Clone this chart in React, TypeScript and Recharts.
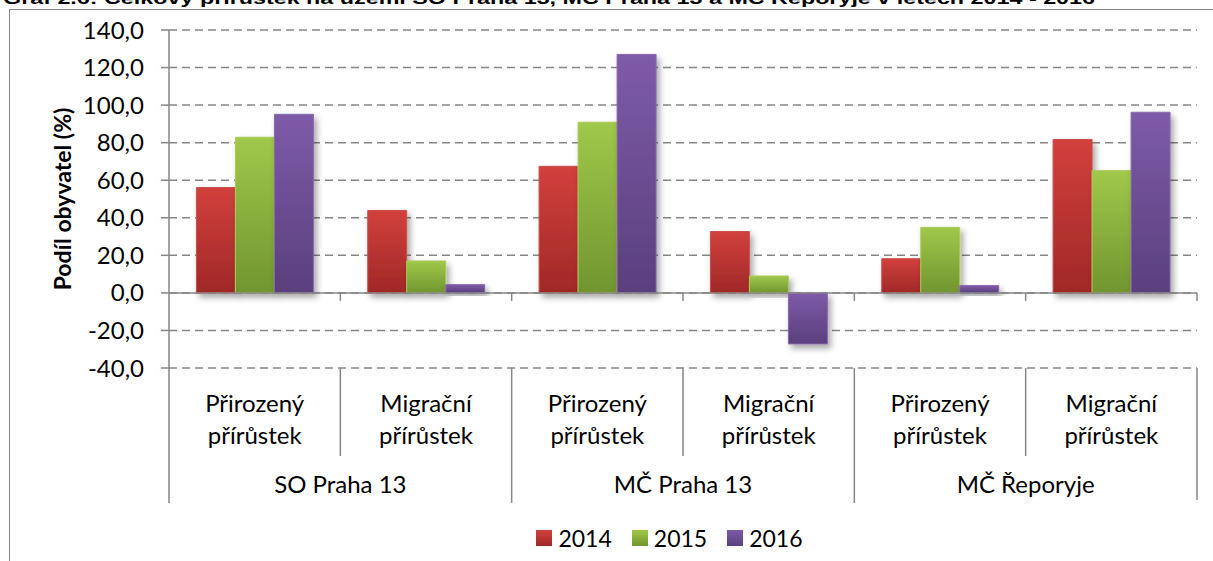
import React from "react";
import { Bar, BarChart, CartesianGrid, Legend, ReferenceLine, XAxis, YAxis } from "recharts";

const groups = ["SO Praha 13", "MČ Praha 13", "MČ Řeporyje"];
const subcats = ["Přirozený přírůstek", "Migrační přírůstek"];
const years = ["2014", "2015", "2016"];
const values2014 = [56.1, 43.9, 67.4, 32.7, 18.2, 81.7];
const values2015 = [82.9, 17.0, 90.9, 9.0, 34.9, 65.1];
const values2016 = [95.1, 4.4, 127.0, -27.2, 3.9, 96.2];
const yTicks = [-40, -20, 0, 20, 40, 60, 80, 100, 120, 140];

const W = 1213;
const H = 561;
const MARGIN = { top: 30, right: 16, left: 0, bottom: 0 };
const Y_AXIS_W = 169;
const X_AXIS_H = 143;
const LEGEND_H = 50;
const PLOT_BOTTOM = H - X_AXIS_H - LEGEND_H;
const BAND = (W - Y_AXIS_W - MARGIN.right) / 6;
const ZERO_Y = MARGIN.top + (140 / 180) * (PLOT_BOTTOM - MARGIN.top);

const AXIS = "#868686";
const FONT = "Lato, 'Open Sans', sans-serif";
const FS = 24;

const SERIES = [
  { key: "y2014", name: years[0], top: "#d2403c", bottom: "#a02827", edge: "#c9504c" },
  { key: "y2015", name: years[1], top: "#a0c84a", bottom: "#71952f", edge: "#a9cc5c" },
  { key: "y2016", name: years[2], top: "#7e5ba8", bottom: "#5a3f7d", edge: "#8a6ab0" },
];

const data = values2014.map((_, i) => ({
  key: `${groups[Math.floor(i / 2)]}|${subcats[i % 2]}`,
  group: groups[Math.floor(i / 2)],
  sub: subcats[i % 2],
  y2014: values2014[i],
  y2015: values2015[i],
  y2016: values2016[i],
}));

const fmt = (v: number) => v.toFixed(1).replace(".", ",");

function CatTick(props: any) {
  const { x, y, payload } = props;
  const i: number = payload.index;
  const row = data[i];
  const half = payload.offset || BAND / 2;
  const [l1, l2] = row.sub.split(" ");
  const rightLong = i % 2 === 1;
  return (
    <g>
      <text x={x} y={y + 44} textAnchor="middle" fontSize={FS} fontFamily={FONT} fill="#000">
        {l1}
      </text>
      <text x={x} y={y + 76} textAnchor="middle" fontSize={FS} fontFamily={FONT} fill="#000">
        {l2}
      </text>
      {i % 2 === 0 && (
        <text x={x + half} y={y + 125} textAnchor="middle" fontSize={FS} fontFamily={FONT} fill="#000">
          {row.group}
        </text>
      )}
      {i === 0 && (
        <line x1={x - half} x2={x - half} y1={y} y2={y + 135} stroke={AXIS} strokeWidth={1.5} />
      )}
      <line
        x1={x + half}
        x2={x + half}
        y1={y}
        y2={y + (rightLong ? (i === 5 ? 132 : 135) : 88)}
        stroke={AXIS}
        strokeWidth={1.5}
      />
      <line x1={x + half} x2={x + half} y1={ZERO_Y} y2={ZERO_Y + 8} stroke={AXIS} strokeWidth={1.5} />
    </g>
  );
}

function YLabel(props: any) {
  const vb = props.viewBox || { x: 0, y: MARGIN.top, height: PLOT_BOTTOM - MARGIN.top };
  const cx = vb.x + 62;
  const cy = vb.y + vb.height / 2;
  return (
    <text
      x={cx}
      y={cy}
      transform={`rotate(-90, ${cx}, ${cy})`}
      textAnchor="middle"
      dominantBaseline="central"
      fontSize={23}
      fontWeight="bold"
      fontFamily={FONT}
      fill="#000"
    >
      Podíl obyvatel (%)
    </text>
  );
}

function LegendBox() {
  return (
    <div
      style={{
        height: LEGEND_H,
        boxSizing: "border-box",
        paddingTop: 4,
        paddingLeft: 142,
        display: "flex",
        justifyContent: "center",
        gap: 20,
        fontFamily: FONT,
        fontSize: 23,
        lineHeight: "24px",
        color: "#000",
      }}
    >
      {SERIES.map((s) => (
        <div key={s.key} style={{ display: "flex", alignItems: "center" }}>
          <span
            style={{
              display: "inline-block",
              width: 16,
              height: 16,
              marginRight: 6,
              background: `linear-gradient(${s.top}, ${s.bottom})`,
            }}
          />
          {s.name}
        </div>
      ))}
    </div>
  );
}

export default function App() {
  return (
    <div style={{ position: "absolute", left: 0, top: 0, width: W, height: H, overflow: "hidden", background: "#fff" }}>
      <div
        style={{
          position: "absolute",
          left: 9,
          top: 9,
          width: W + 100,
          height: H + 100,
          border: `1.5px solid ${AXIS}`,
        }}
      />
      <svg width={W} height={20} style={{ position: "absolute", left: 0, top: 0 }}>
        <text
          x={3}
          y={4}
          fontFamily="'Liberation Sans', Arial, sans-serif"
          fontWeight="bold"
          fontSize={17}
          textLength={1092}
          lengthAdjust="spacingAndGlyphs"
          fill="#000"
        >
          Graf 2.6: Celkový přírůstek na území SO Praha 13, MČ Praha 13 a MČ Řeporyje v letech 2014 - 2016
        </text>
      </svg>
      <div style={{ position: "absolute", left: 0, top: 0 }}>
        <BarChart width={W} height={H} data={data} margin={MARGIN} barGap={0} barCategoryGap="16%">
          <defs>
            {SERIES.map((s) => (
              <linearGradient key={s.key} id={`g-${s.key}`} x1="0" y1="0" x2="0" y2="1">
                <stop offset="0%" stopColor={s.top} />
                <stop offset="100%" stopColor={s.bottom} />
              </linearGradient>
            ))}
            <filter id="shadow" x="-20%" y="-20%" width="150%" height="150%">
              <feDropShadow dx={3} dy={4} stdDeviation={3} floodColor="#000" floodOpacity={0.35} />
            </filter>
          </defs>
          <CartesianGrid vertical={false} stroke={AXIS} strokeWidth={1.5} strokeDasharray="8 5" />
          <XAxis
            dataKey="key"
            interval={0}
            height={X_AXIS_H}
            axisLine={false}
            tickLine={false}
            tickSize={0}
            tickMargin={0}
            tick={(p: any) => <CatTick {...p} />}
          />
          <YAxis
            width={Y_AXIS_W}
            domain={[-40, 140]}
            ticks={yTicks}
            interval={0}
            allowDataOverflow
            tickFormatter={fmt}
            tickSize={8}
            tickMargin={17}
            axisLine={{ stroke: AXIS, strokeWidth: 1.5 }}
            tickLine={{ stroke: AXIS, strokeWidth: 1.5 }}
            tick={{ fill: "#000", fontSize: FS, fontFamily: FONT }}
            label={(p: any) => <YLabel {...p} />}
          />
          <Legend verticalAlign="bottom" height={LEGEND_H} content={() => <LegendBox />} />
          {SERIES.map((s) => (
            <Bar
              key={s.key}
              dataKey={s.key}
              name={s.name}
              fill={`url(#g-${s.key})`}
              stroke={s.edge}
              strokeWidth={1}
              filter="url(#shadow)"
              isAnimationActive={false}
            />
          ))}
          <ReferenceLine y={0} stroke={AXIS} strokeWidth={1.5} />
        </BarChart>
      </div>
    </div>
  );
}
